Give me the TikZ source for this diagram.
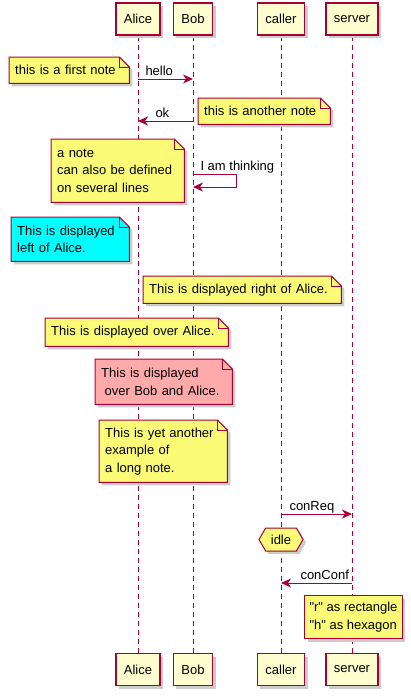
\documentclass[tikz,border=0pt]{standalone}
\usepackage{fontspec}
\newfontfamily\umlfont{Liberation Sans}
\usetikzlibrary{arrows.meta,shadows,backgrounds,shapes.symbols}
\definecolor{umlred}{HTML}{A80036}
\definecolor{partfill}{HTML}{FEFECE}
\definecolor{notefill}{HTML}{FBFB77}
\definecolor{notecyan}{HTML}{00FFFF}
\definecolor{notepink}{HTML}{FFAAAA}
\begin{document}
\begin{tikzpicture}[x=1pt, y=-1pt, font=\umlfont\fontsize{13}{17.5}\selectfont,
  pshadow/.style={drop shadow={shadow xshift=3pt, shadow yshift=-3pt, fill=black!20, opacity=1}},
  partbox/.style={draw=umlred, line width=1.2pt, fill=partfill, minimum height=32pt, inner xsep=8pt, pshadow},
  notebox/.style={anchor=north west, inner xsep=6pt, inner ysep=0pt, align=left},
  noteshape/.style={draw=umlred, line width=1pt, pshadow},
  lifeline/.style={draw=umlred, line width=1pt, dash pattern=on 5pt off 4pt},
  msg/.style={draw=umlred, line width=1pt, -{Stealth[length=10pt, width=9pt, inset=3pt]}},
  msglbl/.style={inner sep=0pt, anchor=base west, yshift=4pt}]
  \useasboundingbox (0,0) rectangle (411,696);
  % participants, top and bottom
  \node[partbox] (alice) at (138,19) {Alice};
  \node[partbox] (bob) at (193,19) {Bob};
  \node[partbox] (caller) at (281,19) {caller};
  \node[partbox] (server) at (352,19) {server};
  \node[partbox] (alice2) at (138,669.5) {Alice};
  \node[partbox] (bob2) at (193,669.5) {Bob};
  \node[partbox] (caller2) at (281,669.5) {caller};
  \node[partbox] (server2) at (352,669.5) {server};
  % notes
  \node[notebox, text width=108pt, minimum height=26pt] (first) at (9,57) {this is a first note};
  \node[notebox, text width=120pt, minimum height=26pt] (another) at (198,98) {this is another note};
  \node[notebox, text width=121pt, minimum height=63pt] (multi) at (51,139) {a note\\can also be defined\\on several lines};
  \node[notebox, text width=106pt, minimum height=44pt] (leftA) at (11,217) {This is displayed\\left of Alice.};
  \node[notebox, text width=186pt, minimum height=27pt] (rightA) at (143,276) {This is displayed right of Alice.};
  \node[notebox, text width=171pt, minimum height=28pt] (overA) at (45,318) {This is displayed over Alice.};
  \node[notebox, text width=125pt, minimum height=45pt] (overBA) at (95,359) {This is displayed\\\hspace*{3.5pt}over Bob and Alice.};
  \node[notebox, text width=116pt, minimum height=62pt] (longnote) at (99,420) {This is yet another\\example of\\a long note.};
  \node[notebox, draw=umlred, line width=1pt, fill=notefill, pshadow, inner xsep=5pt, minimum width=97pt, minimum height=43pt] (rect) at (304,595) {"r" as rectangle\\"h" as hexagon};
  \node[signal, signal to=east and west, signal pointer angle=120, draw=umlred, line width=1pt, fill=notefill, pshadow,
    minimum width=44pt, minimum height=23pt, inner sep=0pt] (idle) at (281,539.5) {idle};
  \begin{scope}[on background layer]
    \foreach \p in {alice,bob,caller,server}
      \draw[lifeline] (\p.south) -- (\p2.north);
    \foreach \n/\c in {first/notefill, another/notefill, multi/notefill, leftA/notecyan,
        rightA/notefill, overA/notefill, overBA/notepink, longnote/notefill} {
      \draw[noteshape, fill=\c] (\n.north west) -- ([xshift=-10pt]\n.north east)
        -- ([yshift=-10pt]\n.north east) -- (\n.south east) -- (\n.south west) -- cycle;
      \draw[umlred, line width=1pt] ([xshift=-10pt]\n.north east) |- ([yshift=-10pt]\n.north east);
    }
  \end{scope}
  % messages
  \draw[msg] (alice |- 0,79) -- node[msglbl, at start, xshift=7pt] {hello} (bob |- 0,79);
  \draw[msg] (bob |- 0,121) -- node[msglbl, at end, xshift=17pt] {ok} (alice |- 0,121);
  \draw[msg] (bob |- 0,174) -- node[msglbl, at start, xshift=7pt] {I am thinking} ++(43,0) -- ++(0,13) -- (bob |- 0,187);
  \draw[msg] (caller |- 0,514) -- node[msglbl, at start, xshift=8pt] {conReq} (server |- 0,514);
  \draw[msg] (server |- 0,583) -- node[msglbl, at end, xshift=19pt] {conConf} (caller |- 0,583);
\end{tikzpicture}
\end{document}
